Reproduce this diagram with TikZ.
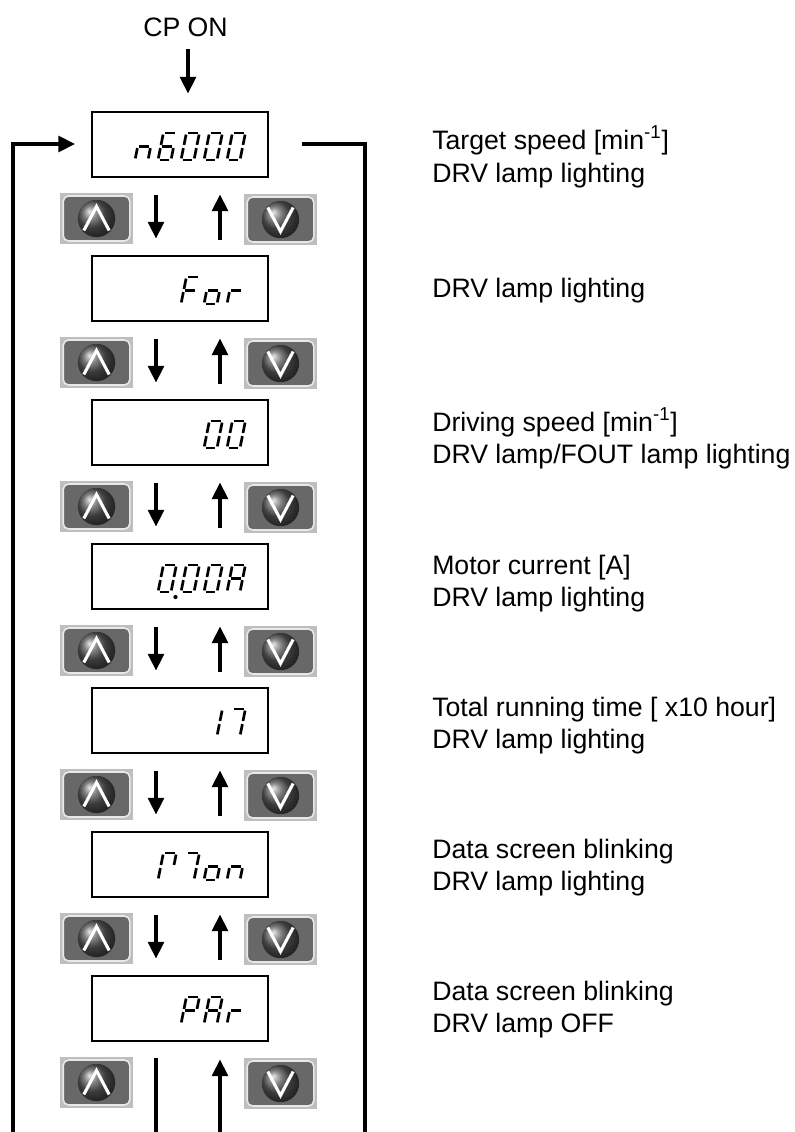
\documentclass[tikz,border=0pt]{standalone}
\usepackage{fontspec}
\setmainfont{Liberation Sans}
\usetikzlibrary{arrows.meta,calc}
\definecolor{btnbg}{HTML}{BEBEBE}
\definecolor{btnrim}{HTML}{E8E8E8}
\definecolor{btnface}{HTML}{686868}
\definecolor{btnball}{HTML}{575757}
% seven-segment pieces (local px, origin bottom-left, y down)
\def\sgA{(1.6,-27) -- (11.4,-27)}
\def\sgB{(13,-25.4) -- (13,-15.1)}
\def\sgC{(13,-11.9) -- (13,-1.6)}
\def\sgD{(1.6,0) -- (11.4,0)}
\def\sgE{(0,-1.6) -- (0,-11.9)}
\def\sgF{(0,-15.1) -- (0,-25.4)}
\def\sgG{(1.6,-13.5) -- (11.4,-13.5)}
\newcommand{\sdig}[3]{%
  \begin{scope}[shift={(#1,#2)},xslant=0.2]
    \foreach \s in {#3}{\expandafter\let\expandafter\cursg\csname sg\s\endcsname
      \draw[segline] \cursg;}
  \end{scope}}
\begin{document}
\begin{tikzpicture}[x=0.75pt,y=-0.75pt,
  disp/.style={draw, line width=1.5pt, minimum width=132pt, minimum height=48.75pt, inner sep=0pt},
  conn/.style={line width=2.3pt},
  arr/.style={conn, -{Triangle[width=12pt,length=12.5pt]}},
  lbl/.style={anchor=base west, inner sep=0pt, font=\fontsize{20}{24}\selectfont},
  segline/.style={line width=2pt},
  btn/.style={minimum width=54.75pt, minimum height=38.5pt, inner sep=0pt, fill=btnbg,
    path picture={
      \fill[btnface, draw=btnrim, line width=1.2pt, rounded corners=4pt]
        ([shift={(2.4pt,-2.4pt)}]path picture bounding box.north west) rectangle
        ([shift={(-2.4pt,2.4pt)}]path picture bounding box.south east);
      \shade[ball color=btnball] (path picture bounding box.center) circle[radius=14pt];
      \draw[white, line width=2.3pt, line join=miter]
        ([shift={(-9.5pt,{-9pt*#1})}]path picture bounding box.center) --
        ([shift={(0pt,{9pt*#1})}]path picture bounding box.center) --
        ([shift={(9.5pt,{-9pt*#1})}]path picture bounding box.center);
    }},
]
\useasboundingbox (0,0) rectangle (794,1132);

% helper coordinates for connector columns
\coordinate (cpx) at (188,0);
\coordinate (dnx) at (156,0);
\coordinate (upx) at (220,0);
\coordinate (bot) at (0,1132);
\coordinate (lbot) at (13,1132);
\coordinate (rbot) at (365,1132);

% display boxes and keys
\foreach \i in {1,...,7}{
  \node[disp] (b\i) at (180,{144+144*(\i-1)}) {};
  \node[btn=1] (u\i) at (96.5,{218.5+144*(\i-1)}) {};
  \node[btn=-1] (d\i) at (280.5,{219.5+144*(\i-1)}) {};
}

% CP ON
\node[anchor=base, inner sep=0pt, font=\fontsize{20}{24}\selectfont] (cp) at (185.5,36) {CP ON};
\draw[arr, shorten <=9pt, shorten >=12.75pt] (cp.south -| cpx) -- (b1.north -| cpx);

% arrows between displays
\foreach \i [evaluate=\i as \j using int(\i+1)] in {1,...,6}{
  \draw[arr, shorten <=12.75pt, shorten >=12pt] (b\i.south -| dnx) -- (b\j.north -| dnx);
  \draw[arr, shorten <=11.25pt, shorten >=12.75pt] (b\j.north -| upx) -- (b\i.south -| upx);
}
\draw[conn, shorten <=12pt] (b7.south -| dnx) -- (bot -| dnx);
\draw[arr, shorten >=13.5pt] (bot -| upx) -- (b7.south -| upx);

% loop lines
\draw[arr, shorten >=12pt] (lbot) |- (b1.west);
\draw[conn, shorten <=24.75pt] (b1.east) -| (rbot);

% seven-segment contents
% 1: n6000
\sdig{135}{160}{C,E,G}
\sdig{158}{160}{A,C,D,E,F,G}
\sdig{181}{160}{A,B,C,D,E,F}
\sdig{204}{160}{A,B,C,D,E,F}
\sdig{227}{160}{A,B,C,D,E,F}
% 2: For
\sdig{181}{304}{A,E,F,G}
\sdig{204}{304}{C,D,E,G}
\sdig{227}{304}{E,G}
% 3: 00
\sdig{204}{448}{A,B,C,D,E,F}
\sdig{227}{448}{A,B,C,D,E,F}
% 4: 0.00A
\sdig{158}{592}{A,B,C,D,E,F}
\fill (175.5,597) circle[radius=1.6pt];
\sdig{181}{592}{A,B,C,D,E,F}
\sdig{204}{592}{A,B,C,D,E,F}
\sdig{227}{592}{A,B,C,E,F,G}
% 5: 17
\sdig{204}{736}{B,C}
\sdig{227}{736}{A,B,C}
% 6: Mon
\sdig{158}{880}{A,B,E,F}
\sdig{181}{880}{A,B,C}
\sdig{204}{880}{C,D,E,G}
\sdig{227}{880}{C,E,G}
% 7: PAr
\sdig{181}{1024}{A,B,E,F,G}
\sdig{204}{1024}{A,B,C,E,F,G}
\sdig{227}{1024}{E,G}

% right-hand descriptions
\node[lbl] (t1a) at (432,149) {Target speed [min\textsuperscript{-1}]};
\node[lbl] (t1b) at (432,182) {DRV lamp lighting};
\node[lbl] (t2a) at (432,297) {DRV lamp lighting};
\node[lbl] (t3a) at (432,431) {Driving speed [min\textsuperscript{-1}]};
\node[lbl] (t3b) at (432,463) {DRV lamp/FOUT lamp lighting};
\node[lbl] (t4a) at (432,574) {Motor current [A]};
\node[lbl] (t4b) at (432,606) {DRV lamp lighting};
\node[lbl] (t5a) at (432,716) {Total running time [ x10 hour]};
\node[lbl] (t5b) at (432,748) {DRV lamp lighting};
\node[lbl] (t6a) at (432,858) {Data screen blinking};
\node[lbl] (t6b) at (432,890) {DRV lamp lighting};
\node[lbl] (t7a) at (432,1000) {Data screen blinking};
\node[lbl] (t7b) at (432,1032) {DRV lamp OFF};
\end{tikzpicture}
\end{document}
